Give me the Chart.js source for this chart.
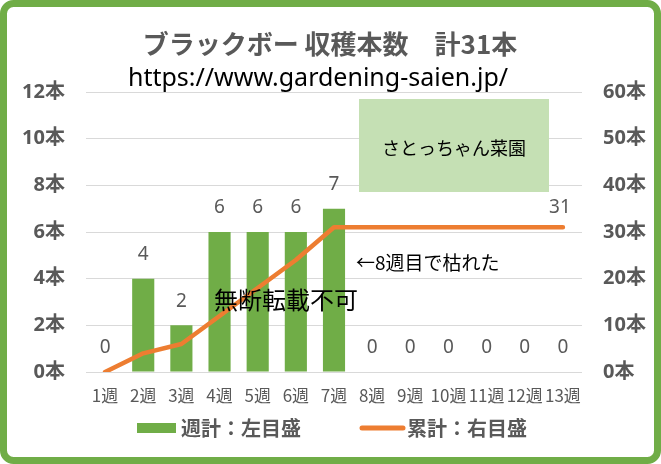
<!DOCTYPE html>
<html>
<head>
<meta charset="utf-8">
<script src="https://cdn.jsdelivr.net/npm/chart.js@4"></script>
<style>
html,body{margin:0;padding:0;background:#fff;}
#wrap{position:relative;width:661px;height:464px;}
</style>
</head>
<body>
<div id="wrap"><canvas id="c" width="661" height="464"></canvas></div>
<script>
const categories = ['1週','2週','3週','4週','5週','6週','7週','8週','9週','10週','11週','12週','13週'];
const weekly = [0,4,2,6,6,6,7,0,0,0,0,0,0];
const cumulative = [0,4,6,12,18,24,31,31,31,31,31,31,31];
const leftTicks = [0,2,4,6,8,10,12];
const rightTicks = [0,10,20,30,40,50,60];
const titleText = 'ブラックボー 収穫本数　計31本';
const subtitleText = 'https://www.gardening-saien.jp/';
const boxText = 'さとっちゃん菜園';
const noteText = '←8週目で枯れた';
const watermark = '無断転載不可';
const seriesNames = ['週計：左目盛','累計：右目盛'];

const JP = '"Noto Sans CJK JP","Noto Sans",sans-serif';
const LAT = '"Noto Sans","Noto Sans CJK JP",sans-serif';
const GRAY = '#595959';
const GREEN = '#70AD47';
const ORANGE = '#ED7D31';

const decor = {
  id:'decor',
  beforeDraw(chart){
    const ctx = chart.ctx;
    ctx.save();
    ctx.fillStyle = '#fff';
    ctx.fillRect(0,0,chart.width,chart.height);
    ctx.restore();
  },
  afterDatasetsDraw(chart){
    const ctx = chart.ctx;
    const yl = chart.scales.y;
    ctx.save();
    // annotation box
    ctx.fillStyle = '#C5E0B4';
    ctx.fillRect(359,99,190,93);
    ctx.fillStyle = '#000';
    ctx.textAlign = 'center'; ctx.textBaseline = 'middle';
    ctx.font = '18px ' + JP;
    ctx.fillText(boxText, 454, 148);
    // title
    ctx.fillStyle = GRAY;
    ctx.font = 'bold 26px ' + JP;
    ctx.fillText(titleText, 330, 44);
    ctx.fillStyle = '#000';
    ctx.font = '25px "Noto Sans","Open Sans",sans-serif';
    ctx.fillText(subtitleText, 318, 79);
    // bar value labels
    ctx.fillStyle = GRAY;
    ctx.font = '19px "Noto Sans",sans-serif';
    const meta0 = chart.getDatasetMeta(0);
    meta0.data.forEach((b,i)=>{
      ctx.fillText(String(weekly[i]), b.x, yl.getPixelForValue(weekly[i]) - 24);
    });
    // last cumulative label
    const meta1 = chart.getDatasetMeta(1);
    const lp = meta1.data[meta1.data.length-1];
    ctx.fillText(String(cumulative[cumulative.length-1]), lp.x - 3, lp.y - 20);
    // notes
    ctx.fillStyle = '#000';
    ctx.textAlign = 'left';
    ctx.font = '19px ' + JP;
    ctx.fillText(noteText, 356, 263);
    ctx.font = '24px ' + JP;
    ctx.fillText(watermark, 214, 300);
    // legend
    ctx.fillStyle = GREEN;
    ctx.fillRect(137,423,39,10);
    ctx.fillStyle = GRAY;
    ctx.font = 'bold 20px ' + JP;
    ctx.fillText(seriesNames[0], 181, 428);
    ctx.strokeStyle = ORANGE; ctx.lineWidth = 5; ctx.lineCap = 'round';
    ctx.beginPath(); ctx.moveTo(362,428); ctx.lineTo(403,428); ctx.stroke();
    ctx.fillText(seriesNames[1], 407, 428);
    // border
    ctx.strokeStyle = GREEN; ctx.lineWidth = 7;
    ctx.beginPath();
    ctx.roundRect(3.5,3.5,chart.width-7,chart.height-7,10);
    ctx.stroke();
    ctx.restore();
  }
};

new Chart(document.getElementById('c'), {
  data:{
    labels: categories,
    datasets:[
      {type:'bar', label:seriesNames[0], data:weekly, yAxisID:'y', backgroundColor:GREEN,
       categoryPercentage:1, barPercentage:0.58, order:2},
      {type:'line', label:seriesNames[1], data:cumulative, yAxisID:'y2', borderColor:ORANGE,
       borderWidth:4.5, pointRadius:0, borderCapStyle:'round', borderJoinStyle:'round', tension:0, order:1}
    ]
  },
  options:{
    responsive:false, animation:false,
    layout:{padding:{top:92,left:0,right:0,bottom:0}},
    plugins:{legend:{display:false}, title:{display:false}, tooltip:{enabled:false}},
    scales:{
      x:{
        grid:{display:false, drawTicks:false},
        border:{display:false},
        ticks:{color:GRAY, font:{size:17, family:JP}, padding:13, maxRotation:0, autoSkip:false},
        afterFit(s){ s.height = 92; }
      },
      y:{
        position:'left', min:0, max:12,
        afterBuildTicks(s){ s.ticks = leftTicks.map(v=>({value:v})); },
        grid:{color:'#D9D9D9', lineWidth:1, drawTicks:false},
        border:{display:false},
        ticks:{color:GRAY, font:{size:20, weight:'bold', family:LAT}, padding:21, callback:v=>v+'本'},
        afterFit(s){ s.width = 86; }
      },
      y2:{
        position:'right', min:0, max:60,
        afterBuildTicks(s){ s.ticks = rightTicks.map(v=>({value:v})); },
        grid:{display:false, drawTicks:false},
        border:{display:false},
        ticks:{color:GRAY, font:{size:20, weight:'bold', family:LAT}, padding:21, callback:v=>v+'本'},
        afterFit(s){ s.width = 79; }
      }
    }
  },
  plugins:[decor]
});
</script>
</body>
</html>
